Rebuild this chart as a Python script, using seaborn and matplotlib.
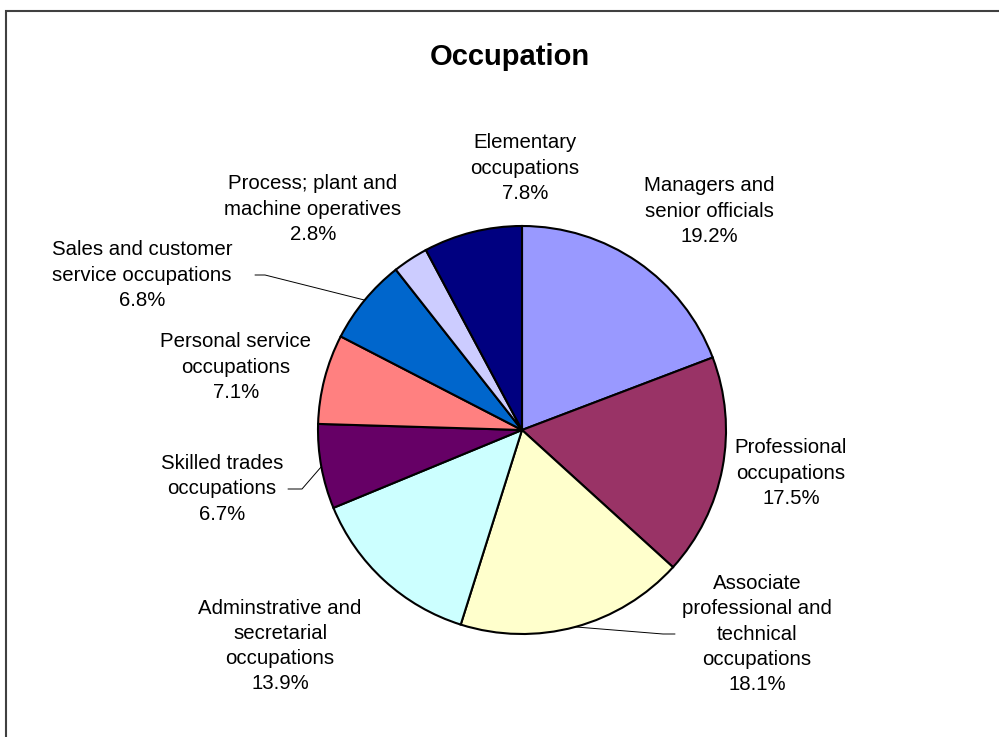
import numpy as np
import matplotlib
matplotlib.use('Agg')
import matplotlib.pyplot as plt
from matplotlib.patches import Rectangle
import seaborn as sns

# Data
categories = ['Managers and\nsenior officials', 'Professional\noccupations',
              'Associate\nprofessional and\ntechnical\noccupations',
              'Adminstrative and\nsecretarial\noccupations',
              'Skilled trades\noccupations', 'Personal service\noccupations',
              'Sales and customer\nservice occupations',
              'Process; plant and\nmachine operatives', 'Elementary\noccupations']
shares = [19.2, 17.5, 18.1, 13.9, 6.7, 7.1, 6.8, 2.8, 7.8]
colors = ['#9999FF', '#993366', '#FFFFCC', '#CCFFFF', '#660066',
          '#FF8080', '#0066CC', '#CCCCFF', '#000080']

W, H = 999, 737
# label centres in pixels (x, y from top)
label_pos = [(709, 211), (791, 473), (757, 634), (280, 646), (222, 489),
             (236, 367), (142, 275), (313, 209), (525, 168)]
# leader lines: index -> (x next to text, x of elbow)
leaders = {2: (675, 663), 4: (288, 302), 6: (255, 265)}

sns.set_style('white')
plt.rcParams['font.family'] = ['Liberation Sans', 'DejaVu Sans']

fig = plt.figure(figsize=(W / 100, H / 100), dpi=100)
ax = fig.add_axes([0, 0, 1, 1])
ax.axis('off')

cx, cy, r = 522, 430, 204
wedges, _ = ax.pie(shares, colors=sns.color_palette(colors), startangle=90,
                   counterclock=False, center=(cx, H - cy), radius=r,
                   wedgeprops=dict(edgecolor='black', linewidth=1.5))
ax.set_xlim(0, W)
ax.set_ylim(0, H)
ax.set_aspect('auto')

for i, (w, lab, val) in enumerate(zip(wedges, categories, shares)):
    x, y = label_pos[i]
    ax.text(x, H - y, f'{lab}\n{val:.1f}%', ha='center', va='center',
            fontsize=14.7, linespacing=1.42, color='black')
    if i in leaders:
        mid = np.deg2rad((w.theta1 + w.theta2) / 2)
        ex, ey = cx + r * np.cos(mid), H - cy + r * np.sin(mid)
        x0, x1 = leaders[i]
        ax.plot([x0, x1, ex], [H - y, H - y, ey], color='black', lw=0.7)

ax.text(510, H - 57, 'Occupation', ha='center', va='center',
        fontsize=21, fontweight='bold', color='black')

fig.patches.append(Rectangle((5.5 / W, -0.1), 1.2, (H - 11) / H + 0.1,
                             transform=fig.transFigure, fill=False,
                             edgecolor='#404040', linewidth=1.5))

fig.savefig('out.png', dpi=100)
